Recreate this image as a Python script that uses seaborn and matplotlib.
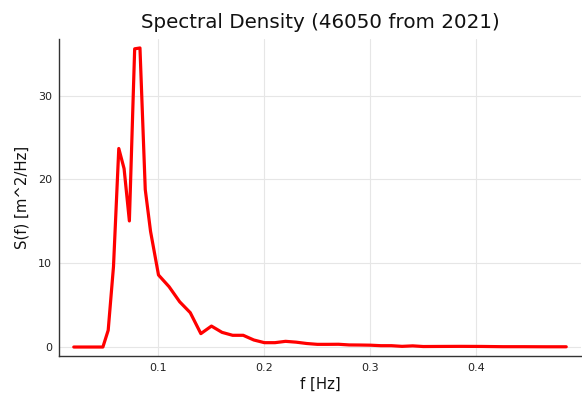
import numpy as np
import pandas as pd
import matplotlib
matplotlib.use("Agg")
import matplotlib.pyplot as plt
import seaborn as sns

freq = [0.02, 0.0325, 0.0375, 0.0425, 0.0475, 0.0525, 0.0575, 0.0625, 0.0675,
        0.0725, 0.0775, 0.0825, 0.0875, 0.0925, 0.1, 0.11, 0.12, 0.13, 0.14,
        0.15, 0.16, 0.17, 0.18, 0.19, 0.2, 0.21, 0.22, 0.23, 0.24, 0.25, 0.26,
        0.27, 0.28, 0.29, 0.3, 0.31, 0.32, 0.33, 0.34, 0.35, 0.365, 0.385,
        0.405, 0.425, 0.445, 0.465, 0.485]
density = [0.0, 0.0, 0.0, 0.0, 0.0, 2.0, 9.6, 23.7, 21.3,
           15.05, 35.6, 35.7, 18.8, 13.8, 8.6, 7.2, 5.4, 4.1, 1.6,
           2.5, 1.75, 1.4, 1.4, 0.84, 0.52, 0.52, 0.68, 0.58, 0.42, 0.32, 0.32,
           0.33, 0.25, 0.24, 0.22, 0.16, 0.16, 0.08, 0.14, 0.06, 0.07, 0.08,
           0.07, 0.04, 0.04, 0.03, 0.03]

title = "Spectral Density (46050 from 2021)"
xlabel = "f [Hz]"
ylabel = "S(f) [m^2/Hz]"
xticks = [0.1, 0.2, 0.3, 0.4]
yticks = [0, 10, 20, 30]

df = pd.DataFrame({"f": freq, "S": density})

sns.set_style("white")
plt.rcParams['font.family'] = ['DejaVu Sans']

fig = plt.figure(figsize=(5.82, 3.97), dpi=100)
ax = fig.add_axes([59/582, 1-356/397, (581-59)/582, (356-39)/397])

sns.lineplot(data=df, x="f", y="S", ax=ax, color="#ff0000", linewidth=2.3)

xr = max(freq) - min(freq)
yr = max(density) - min(density)
ax.set_xlim(min(freq) - 0.03*xr, max(freq) + 0.03*xr)
ax.set_ylim(min(density) - 0.03*yr, max(density) + 0.03*yr)

ax.set_xticks(xticks)
ax.set_xticklabels([str(t) for t in xticks])
ax.set_yticks(yticks)
ax.set_yticklabels([str(t) for t in yticks])
ax.grid(True, color="#e6e6e6", linewidth=0.8)
ax.set_axisbelow(True)

for s in ["top", "right"]:
    ax.spines[s].set_visible(False)
for s in ["left", "bottom"]:
    ax.spines[s].set_color("#333333")
    ax.spines[s].set_linewidth(1.0)

ax.tick_params(direction="in", length=4, width=0.8, color="#333333",
               labelsize=8, labelcolor="#222222", pad=5)

ax.set_title(title, fontsize=14.3, pad=8, color="#111111")
ax.set_xlabel(xlabel, fontsize=10.7, labelpad=3, color="#111111")
ax.set_ylabel(ylabel, fontsize=10.7, labelpad=6, color="#111111")

fig.savefig("out.png", dpi=100)
